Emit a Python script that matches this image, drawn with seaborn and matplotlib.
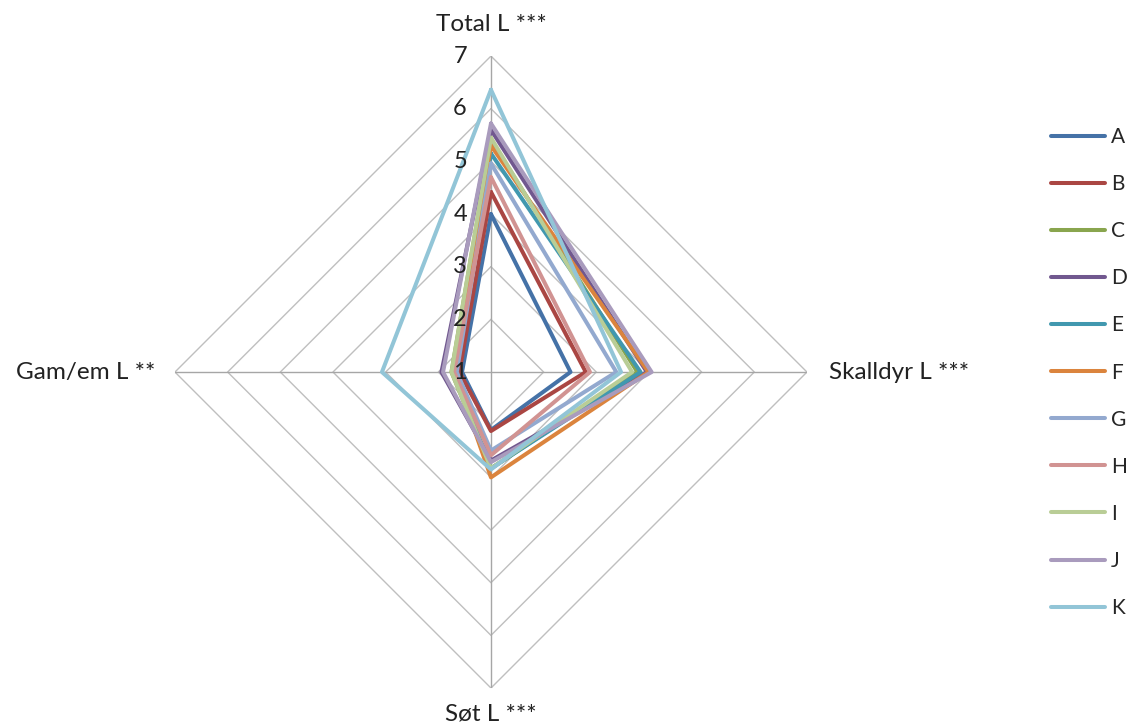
import numpy as np
import pandas as pd
import seaborn as sns
import matplotlib.pyplot as plt

# --- Data ---
axes_labels = ['Total L ***', 'Skalldyr L ***', 'Søt L ***', 'Gam/em L **']
series = ['A', 'B', 'C', 'D', 'E', 'F', 'G', 'H', 'I', 'J', 'K']
total    = [4.00, 4.42, 5.40, 5.60, 5.15, 5.30, 4.96, 4.70, 5.45, 5.72, 6.36]
skalldyr = [2.51, 2.80, 3.78, 3.96, 3.84, 3.99, 3.38, 2.88, 3.68, 4.05, 3.47]
sot      = [2.10, 2.12, 2.83, 2.68, 2.83, 3.00, 2.49, 2.58, 2.83, 2.71, 2.85]
gamem    = [1.55, 1.60, 1.75, 1.94, 1.70, 1.70, 1.65, 1.70, 1.75, 1.91, 3.07]
ticks = [1, 2, 3, 4, 5, 6, 7]

colors = ['#4572A7', '#AA4643', '#89A54E', '#71588F', '#4198AF', '#DB843D',
          '#93A9CF', '#D19392', '#B9CD96', '#A99BBD', '#92C5D7']

# --- Long table, polygons closed by repeating the first axis at 2*pi ---
angles = np.linspace(0, 2 * np.pi, len(axes_labels), endpoint=False)
cols = [total, skalldyr, sot, gamem]
rows = []
for i, s in enumerate(series):
    vals = [c[i] for c in cols]
    for a, v in zip(list(angles) + [2 * np.pi], vals + [vals[0]]):
        rows.append({'series': s, 'theta': a, 'value': v})
df = pd.DataFrame(rows)

sns.set_theme(style='white')
plt.rcParams['font.family'] = ['Lato', 'DejaVu Sans']

fig = plt.figure(figsize=(11.31, 7.27), dpi=100)
ax = fig.add_axes([0.1547, 0.0536, 0.5588, 0.8693], projection='polar')
ax.set_theta_offset(np.pi / 2)
ax.set_theta_direction(-1)
ax.set_ylim(1, 7)
ax.grid(False)
ax.spines['polar'].set_visible(False)
ax.set_xticks([])
ax.set_yticks([])
ax.set_facecolor('white')

# diamond grid and spokes
ring_theta = list(angles) + [2 * np.pi]
for r in ticks[1:]:
    ax.plot(ring_theta, [r] * len(ring_theta), color='#BFBFBF', lw=1, zorder=1)
for a in angles:
    ax.plot([a, a], [1, 7], color='#A6A6A6', lw=1, zorder=1)

sns.lineplot(data=df, x='theta', y='value', hue='series', palette=colors,
             sort=False, estimator=None, lw=2.9, ax=ax, zorder=3)
handles, labels = ax.get_legend_handles_labels()
ax.get_legend().remove()

# radial tick labels along the top axis
for t in ticks:
    ax.annotate(str(t), xy=(0, t), xytext=(-24, 0), textcoords='offset pixels',
                ha='right', va='center', fontsize=17, color='#222222')

# axis category labels
pos = [(7.6, 'center', 'center'), (7.42, 'left', 'center'),
       (7.5, 'center', 'center'), (7.38, 'right', 'center')]
for a, lab, (r, ha, va) in zip(angles, axes_labels, pos):
    ax.text(a, r, lab, ha=ha, va=va, fontsize=17.5, color='#222222', clip_on=False)

fig.legend(handles, labels, loc='center left', bbox_to_anchor=(0.929, 0.4876),
           frameon=False, fontsize=15, handlelength=2.6, handletextpad=0.3,
           labelspacing=1.3, borderpad=0, borderaxespad=0)

fig.savefig('out.png', dpi=100)
